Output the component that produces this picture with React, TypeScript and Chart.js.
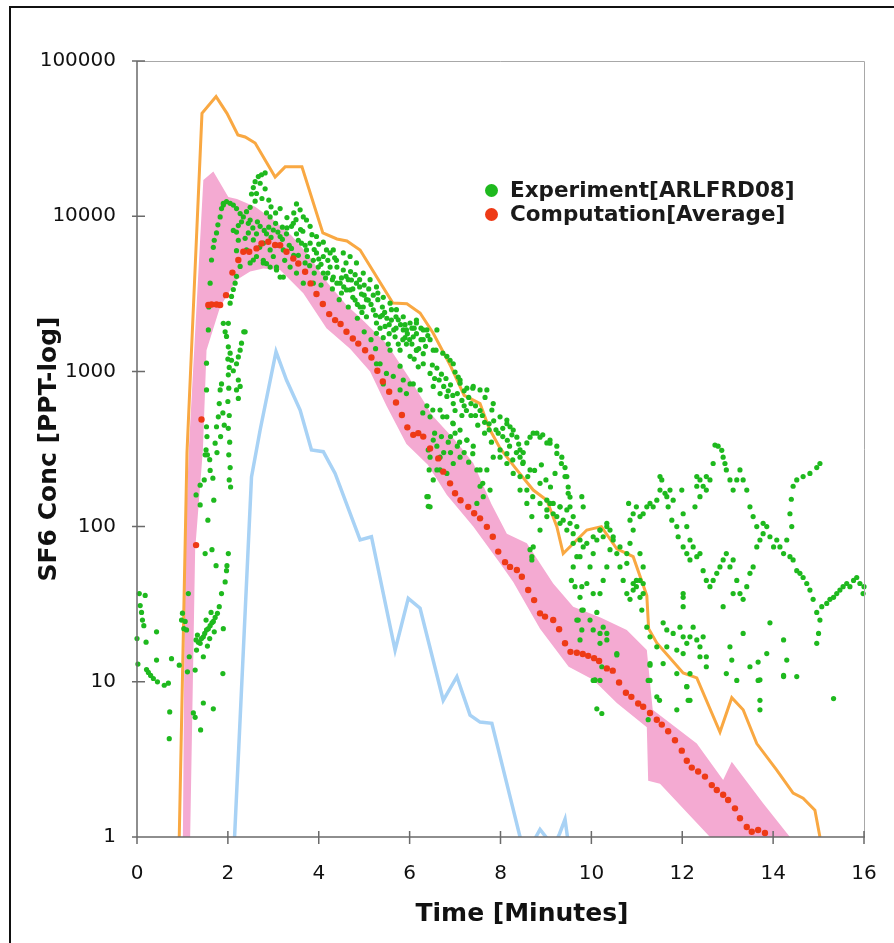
import React, { useEffect, useRef } from "react";
import { Chart, registerables } from "chart.js";

Chart.register(...registerables);

// ---- axis settings ----
const xMin = 0;
const xMax = 16;
const xStep = 2;
const yTickValues = [1, 10, 100, 1000, 10000, 100000];

// ---- series: [time (min), concentration (ppt)] ----
const maxLine: [number, number][] = [
  [0.93, 1], [1.1, 300], [1.43, 46000], [1.74, 59000], [1.98, 46000], [2.22, 33400], [2.38, 32400],
  [2.6, 29600], [3.04, 17900], [3.26, 20800], [3.63, 20800], [4.09, 7800], [4.4, 7130], [4.62, 6920],
  [4.91, 6050], [5.63, 2760], [5.94, 2730], [6.23, 2380], [6.52, 1760], [6.89, 1100], [7.2, 700],
  [7.55, 620], [7.75, 430], [7.99, 320], [8.36, 232], [8.72, 172], [9.02, 148], [9.24, 100], [9.38, 67],
  [9.9, 95], [10.22, 100], [10.56, 72], [10.92, 64], [11.22, 36], [11.26, 22], [11.44, 17.8],
  [12.02, 11.4], [12.32, 10.6], [12.83, 4.75], [13.09, 7.9], [13.34, 6.6], [13.64, 4.0], [14.08, 2.7],
  [14.44, 1.92], [14.66, 1.78], [14.92, 1.49], [15.03, 1],
];

const minLine: [number, number][] = [
  [2.14, 0.9], [2.52, 209], [2.71, 419], [3.06, 1340], [3.29, 880], [3.59, 564], [3.84, 312], [4.1, 304],
  [4.36, 220], [4.91, 82], [5.16, 86], [5.68, 16], [5.97, 34.5], [6.23, 29.8], [6.74, 7.6], [7.04, 10.8],
  [7.33, 6.1], [7.55, 5.5], [7.81, 5.4], [8.43, 1], [8.6, 0.8], [8.87, 1.12], [9.0, 1.0], [9.15, 0.85],
  [9.3, 1.05], [9.42, 1.3], [9.52, 0.8],
];

const bandUpper: [number, number][] = [
  [1.01, 1], [1.06, 71], [1.14, 312], [1.46, 17100], [1.68, 19400], [2.01, 13300], [2.2, 12900],
  [2.6, 11500], [3.0, 9500], [3.4, 7500], [3.8, 5500], [4.2, 3700], [4.6, 2700], [5.0, 2100], [5.5, 1500],
  [6.0, 900], [6.5, 520], [7.0, 360], [7.4, 257], [7.8, 140], [8.14, 90], [8.58, 78], [9.16, 43],
  [9.6, 30.5], [10.2, 26], [10.78, 21.6], [11.22, 16], [11.35, 6.6], [12.32, 4.0], [12.9, 2.33],
  [13.09, 3.05], [13.78, 1.65], [14.37, 1],
];

const bandLower: [number, number][] = [
  [1.17, 1], [1.28, 71], [1.45, 312], [1.53, 1370], [1.83, 2610], [2.19, 3880], [2.49, 4400],
  [2.78, 4610], [3.15, 4500], [3.37, 3880], [3.66, 3190], [4.17, 1900], [4.69, 1400], [5.13, 1000],
  [5.49, 600], [5.93, 340], [6.4, 250], [6.82, 160], [7.4, 100], [7.99, 58], [8.28, 44], [8.87, 22],
  [9.5, 12.5], [10.04, 10.3], [10.56, 7.3], [11.22, 5.1], [11.25, 2.3], [11.51, 2.2], [12.61, 1],
];

const computation: [number, number][] = [
  [1.3, 76], [1.42, 490], [1.57, 2680], [1.64, 2700], [1.75, 2700], [1.83, 2680], [1.96, 3100],
  [2.1, 4330], [2.23, 5220], [2.34, 5900], [2.47, 5900], [2.63, 6200], [2.74, 6670], [2.89, 6850],
  [3.04, 6520], [3.15, 6500], [3.29, 5900], [3.44, 5340], [3.55, 4960], [3.7, 4390], [3.82, 3690],
  [3.95, 3150], [4.09, 2720], [4.23, 2340], [4.36, 2140], [4.48, 2020], [4.61, 1800], [4.75, 1630],
  [4.87, 1510], [5.02, 1370], [5.16, 1230], [5.29, 1010], [5.41, 860], [5.55, 740], [5.7, 630],
  [5.83, 524], [5.95, 436], [6.08, 390], [6.19, 400], [6.3, 380], [6.45, 319], [6.63, 275], [6.74, 226],
  [6.89, 190], [7.0, 164], [7.12, 148], [7.29, 134], [7.42, 122], [7.55, 113], [7.7, 99.6], [7.83, 86],
  [7.95, 69], [8.1, 59], [8.21, 55], [8.36, 52.5], [8.47, 47.5], [8.61, 39], [8.74, 33.6], [8.87, 27.6],
  [8.98, 26.3], [9.16, 25], [9.29, 21.8], [9.42, 17.7], [9.54, 15.6], [9.68, 15.4], [9.81, 15.1],
  [9.93, 14.7], [10.06, 14.2], [10.17, 13.6], [10.34, 12.2], [10.47, 11.8], [10.61, 9.9], [10.76, 8.5],
  [10.88, 8.0], [11.03, 7.25], [11.14, 6.9], [11.29, 6.3], [11.44, 5.7], [11.55, 5.3], [11.69, 4.8],
  [11.84, 4.2], [11.99, 3.6], [12.1, 3.1], [12.21, 2.8], [12.35, 2.64], [12.5, 2.45], [12.65, 2.16],
  [12.76, 2.01], [12.9, 1.87], [13.01, 1.73], [13.16, 1.53], [13.27, 1.32], [13.42, 1.16], [13.53, 1.08],
  [13.67, 1.11], [13.82, 1.06],
];

const experimentEarly: [number, number][] = [
  [0, 19], [0.02, 13], [0.05, 37], [0.07, 31], [0.1, 28], [0.12, 25], [0.15, 23], [0.18, 36], [0.2, 18],
  [0.21, 12], [0.25, 11.5], [0.3, 11], [0.36, 10.5], [0.43, 21], [0.43, 13.8], [0.45, 10], [0.6, 9.5],
  [0.69, 9.8], [0.72, 6.4], [0.71, 4.3], [0.76, 14.1], [0.93, 12.8], [0.98, 25], [1.0, 27.7], [1.03, 22],
  [1.06, 24.5], [1.09, 21.6], [1.11, 11.6], [1.13, 37], [1.15, 14.5], [1.24, 6.3], [1.28, 5.9], [1.28, 11.9],
  [1.4, 4.9], [1.46, 7.3], [1.68, 6.7], [1.89, 11.3], [1.31, 16], [1.35, 18], [1.39, 17.7], [1.42, 19],
  [1.46, 19.5], [1.49, 20.5], [1.53, 21.6], [1.57, 22], [1.61, 23], [1.65, 24], [1.68, 24.5], [1.72, 26],
  [1.77, 27.6], [1.81, 30.5], [1.86, 37], [1.9, 22], [1.94, 44], [1.97, 52], [1.98, 56], [1.74, 56],
  [1.5, 67], [2.01, 67], [1.46, 14.5], [1.33, 20], [1.3, 18.6], [1.55, 17], [1.6, 19], [1.52, 25],
  [1.63, 28], [1.7, 21],
];

const experimentRise: [number, number][] = [
  [1.3, 160], [1.39, 185], [1.39, 138], [1.5, 290], [1.61, 230], [1.67, 205], [1.69, 148], [1.56, 110],
  [1.65, 71], [1.53, 1130], [1.57, 1850], [1.53, 760], [1.53, 440], [1.54, 380], [1.52, 312], [1.75, 440],
  [1.72, 345], [1.79, 510], [1.81, 620], [1.83, 760], [1.86, 830], [1.89, 540], [1.9, 2040], [1.94, 1800],
  [1.97, 1680], [2.01, 1440], [2.05, 1310], [2.08, 1180], [2.03, 1060], [2.12, 1010], [2.19, 1120],
  [2.23, 1240], [2.27, 1370], [2.3, 1520], [2.35, 1800], [2.23, 880], [2.27, 800], [2.19, 760], [2.23, 670],
  [2.38, 1800], [2.0, 1200], [2.01, 950], [2.02, 780], [2.0, 640], [2.03, 520], [2.01, 430], [2.04, 350],
  [2.02, 290], [2.05, 240], [2.03, 200], [2.06, 180], [1.55, 290], [1.6, 270], [1.48, 200], [1.76, 300],
  [1.84, 380], [1.92, 450], [1.61, 3700], [1.64, 5220], [1.68, 6300], [1.75, 7800], [1.83, 9900],
  [1.9, 11800], [2.01, 2040], [2.05, 2750], [2.08, 3040], [2.12, 3370], [2.16, 3700], [2.19, 4100],
  [2.27, 4750], [2.19, 6000], [2.23, 7000], [2.19, 7900], [2.23, 8700], [2.12, 8100], [2.38, 7200],
  [1.58, 2600], [1.7, 7000], [1.78, 8800],
];

const experimentPeak: [number, number][] = [
  [1.86, 11200], [1.9, 12100], [1.97, 12400], [2.05, 12100], [2.12, 11800], [2.19, 11200], [2.27, 10400],
  [2.34, 9900], [2.41, 10700], [2.49, 11400], [2.52, 13900], [2.56, 15300], [2.6, 16700], [2.67, 18000],
  [2.74, 18500], [2.82, 19000], [2.71, 16300], [2.82, 15000], [2.63, 14000], [2.45, 9000], [2.3, 9200],
  [2.6, 12500], [2.75, 13000], [2.9, 12700], [2.95, 11500], [3.05, 10500], [3.15, 11200], [3.51, 12000],
  [3.59, 11000], [3.66, 9900], [3.73, 9450], [3.45, 10500], [3.3, 9800],
  [2.93, 9900], [3.0, 8150], [3.15, 7400], [2.93, 6060], [2.78, 6700], [2.63, 7700], [2.49, 9450],
  [2.56, 7030], [2.71, 8600], [2.85, 7700], [3.0, 5500], [3.22, 6060], [3.29, 7700], [3.44, 9000],
  [3.51, 7700], [3.62, 6700], [3.73, 6060], [3.81, 6700], [3.88, 5200], [3.99, 4700], [4.1, 5500],
  [4.17, 6060], [4.25, 4700], [4.32, 4050], [4.39, 5200], [4.47, 3700], [4.54, 4500], [4.61, 3350],
  [4.72, 3880], [4.8, 2880], [4.83, 3700], [4.91, 2600], [4.94, 3150], [5.05, 2250], [5.09, 2880],
  [5.2, 2490], [5.27, 1760], [5.35, 2250], [5.46, 1950], [5.53, 1500], [5.6, 2140], [5.68, 1670],
  [5.79, 1370], [5.86, 1850], [5.93, 1500], [6.01, 1250], [6.08, 1670], [6.15, 1370], [6.19, 1070],
  [6.01, 830], [5.86, 880], [5.79, 760],
  [2.41, 6060], [2.63, 5500], [2.78, 5000], [2.93, 4700], [3.07, 4500], [3.37, 4700], [3.51, 4300],
  [3.66, 3700], [3.88, 3700], [2.49, 5000], [2.78, 5200], [3.07, 4700], [3.22, 4050], [2.56, 5220],
  [3.15, 4050], [2.85, 4950],
  [3.81, 8600], [3.95, 7400], [4.1, 6800], [4.32, 6060], [4.54, 5800], [4.69, 5500], [4.83, 5000],
  [4.98, 4300], [5.13, 3900], [5.27, 3500], [5.42, 3000], [5.57, 2750], [5.71, 2500], [5.86, 2250],
  [6.01, 2050], [6.15, 2050],
  [4.69, 3350], [4.98, 2600], [5.27, 2050], [5.42, 1650], [5.57, 1370], [5.79, 1080], [5.27, 1120],
  [5.42, 830], [5.35, 1120], [5.49, 970], [5.64, 930], [5.93, 720], [6.08, 830], [6.23, 760], [6.38, 600],
  [6.45, 510], [6.52, 361], [6.41, 312], [6.45, 280], [6.43, 232], [6.41, 156], [6.41, 135],
  [3.2, 8500], [3.35, 6500], [3.55, 5600], [3.7, 5000], [3.9, 6100], [4.0, 5300], [4.2, 4300], [4.4, 4700],
  [4.5, 3200], [4.6, 4100], [4.75, 3000], [4.9, 3500], [5.0, 3100], [5.15, 2700], [5.3, 2900], [5.4, 2300],
  [5.55, 2000], [5.7, 1900], [5.75, 2150], [5.9, 1650], [6.05, 1500], [6.1, 1900], [6.25, 1600],
  [6.3, 1300], [3.6, 8200], [3.4, 8600], [2.9, 8500], [3.1, 6500], [4.05, 3600], [4.15, 4000], [4.3, 3400],
  [4.45, 2900], [4.65, 2600], [4.85, 2200], [5.0, 1800], [5.15, 1600], [5.25, 1400],
  [2.45, 7800], [2.55, 8400], [2.65, 9200], [2.7, 6300], [2.8, 8100], [2.85, 10500], [2.95, 7300],
  [3.05, 9000], [3.1, 7900], [3.2, 7100], [3.25, 5200], [3.3, 8400], [3.4, 6200], [3.45, 5600],
  [3.5, 9500], [3.55, 7000], [3.65, 8000], [3.7, 6500], [3.75, 5500], [3.8, 4800], [3.85, 7600],
  [3.9, 4300], [3.95, 5800], [4.0, 6600], [4.05, 4900], [4.1, 4300], [4.2, 5200], [4.25, 5800],
  [4.3, 3900], [4.35, 5400], [4.4, 3700], [4.5, 4000], [4.55, 3500], [4.6, 5000], [4.65, 3900],
  [4.7, 4400], [4.75, 3400], [4.8, 4200], [4.85, 2700], [4.9, 3900], [4.95, 2400], [5.0, 3600],
  [5.05, 2900], [5.1, 3400], [5.2, 3100], [5.25, 2300], [5.3, 3200], [5.35, 1900], [5.4, 2600],
  [5.45, 2400], [5.5, 2200], [5.55, 1750], [5.6, 2500], [5.65, 1850], [5.7, 2250], [5.75, 1500],
  [5.8, 2000], [5.85, 1600], [5.9, 2000], [5.95, 1750], [6.0, 1600], [6.05, 1900], [6.1, 1200],
  [6.15, 1750], [6.2, 1400], [6.25, 1900], [6.3, 1600], [6.35, 1450], [6.4, 1700],
];

const experimentMid: [number, number][] = [
  [6.15, 2140], [6.3, 1850], [6.45, 1600], [6.58, 1370], [6.73, 1310], [6.89, 1180], [7.0, 990],
  [7.11, 880], [7.26, 780], [7.39, 780], [7.55, 760], [7.66, 680], [7.81, 564], [7.99, 510], [8.14, 486],
  [8.21, 440], [8.36, 377], [8.43, 280], [8.49, 255], [8.65, 232], [8.87, 190], [9.02, 148], [9.16, 141],
  [9.31, 134], [9.46, 128], [9.6, 116],
  [8.58, 346], [8.65, 377], [8.8, 400], [8.93, 390], [9.09, 361], [9.24, 330], [9.35, 280], [9.42, 240],
  [9.46, 210], [9.49, 180], [9.53, 155],
  [6.6, 1850], [6.82, 1250], [6.96, 1120], [7.07, 920], [7.11, 840], [7.4, 800], [7.7, 760], [7.84, 620],
  [8.14, 460], [8.28, 419], [8.43, 312], [8.72, 400], [8.87, 377], [9.02, 346],
  [5.93, 1850], [6.15, 1370], [6.3, 1120], [6.45, 970], [6.52, 800], [6.67, 720], [6.82, 690], [6.96, 620],
  [6.52, 1370], [6.38, 1850],
  [6.67, 564], [6.82, 510], [6.96, 460], [6.67, 280], [6.6, 232], [6.82, 220], [6.96, 255], [7.11, 280],
  [7.26, 361], [7.4, 330], [7.48, 232], [7.55, 182], [7.48, 141], [7.62, 156], [7.7, 232], [7.84, 280],
  [7.99, 312], [8.14, 255], [8.28, 220], [8.43, 172], [8.58, 141], [8.69, 116], [8.69, 64], [8.72, 74],
  [8.87, 95], [9.02, 116],
  [6.29, 540], [6.51, 564], [6.73, 510], [6.95, 465], [7.11, 419], [7.26, 361], [7.39, 295], [7.55, 232],
  [7.61, 190], [7.77, 172], [7.99, 280], [8.14, 295], [8.27, 269], [8.43, 210], [8.58, 172], [8.71, 156],
  [8.87, 141], [9.02, 128], [9.24, 116], [9.31, 105], [9.46, 95], [9.6, 78], [9.75, 64], [9.9, 78],
  [10.04, 86], [10.19, 95], [10.34, 100], [10.48, 86], [10.63, 74], [10.78, 58], [10.92, 43], [11.07, 35],
  [6.38, 156], [6.45, 134], [6.52, 200], [6.67, 232], [8.65, 71], [8.69, 61], [9.68, 25], [9.79, 29],
  [10.04, 21.6], [10.19, 20.5], [10.34, 18.6], [10.56, 15.2], [10.19, 10.2], [10.04, 10.2], [11.29, 13.1],
  [11.25, 10.2], [11.14, 43],
  [7.2, 600], [7.35, 520], [7.5, 450], [7.65, 400], [7.8, 350], [7.9, 420], [8.05, 380], [8.2, 330],
  [8.35, 300], [8.5, 260], [8.6, 210], [8.75, 230], [8.9, 250], [9.0, 200], [9.1, 180], [9.2, 220],
  [7.3, 680], [7.45, 600], [7.6, 520], [7.75, 460], [7.15, 520], [7.0, 560], [6.9, 380], [7.05, 330],
  [6.5, 1100], [6.55, 900], [6.6, 1050], [6.65, 880], [6.7, 960], [6.75, 800], [6.8, 900], [6.85, 750],
  [6.9, 820], [6.95, 700], [7.05, 720], [7.15, 650], [7.2, 750], [7.25, 560], [7.35, 620], [7.45, 520],
  [7.55, 560], [7.65, 470], [7.75, 420], [7.85, 480], [7.95, 400], [8.05, 430], [8.15, 360], [8.25, 390],
  [8.4, 340], [8.5, 300], [6.55, 400], [6.6, 330], [6.7, 380], [6.75, 300], [6.85, 350], [6.9, 300],
  [7.0, 400], [7.1, 350], [7.2, 300], [7.3, 260],
];

const experimentLate: [number, number][] = [
  [9.09, 345], [9.24, 296], [9.34, 255], [9.42, 210], [9.49, 164], [9.53, 134], [9.09, 141], [9.16, 121],
  [9.31, 134], [9.38, 110], [9.53, 105], [9.6, 90], [9.68, 100], [9.79, 156], [9.82, 134], [9.75, 82],
  [9.82, 74], [9.68, 64], [9.6, 55], [9.56, 45], [9.64, 41], [9.79, 41], [9.9, 43], [9.97, 55], [10.04, 67],
  [10.12, 82], [10.19, 95], [10.26, 86], [10.34, 105], [10.41, 95], [10.48, 82], [10.41, 71], [10.34, 55],
  [10.26, 45], [10.19, 37], [10.04, 37], [10.12, 28], [10.26, 22.5], [10.34, 20.5], [10.19, 17.7],
  [9.97, 25], [9.82, 29], [9.75, 35], [9.71, 25], [9.79, 21.6], [9.75, 18.6], [10.08, 10.3],
  [10.56, 67], [10.63, 55], [10.7, 45], [10.78, 37], [10.85, 34], [10.92, 39], [10.99, 45], [10.78, 67],
  [10.85, 78], [10.92, 95], [10.85, 110], [10.82, 141], [10.92, 121], [10.99, 134], [11.07, 116],
  [11.14, 121], [11.22, 134], [11.29, 141], [11.36, 134], [11.44, 148], [11.51, 172], [11.55, 200],
  [11.66, 156], [11.73, 172], [11.8, 148],
  [11.07, 67], [11.14, 55], [11.07, 45], [10.99, 41], [11.14, 37], [11.11, 29], [11.22, 22.5], [11.29, 19.5],
  [11.44, 16.8], [11.58, 24], [11.66, 21.6], [11.8, 20.5], [11.95, 22.5], [12.02, 19.5], [12.1, 17.7],
  [12.17, 19.5], [12.24, 22.5], [12.32, 18.6], [12.39, 16.8], [12.46, 19.5], [12.53, 14.5], [11.66, 16.8],
  [11.88, 16], [12.02, 15.2], [12.02, 35], [12.02, 30.5], [12.17, 11.3], [12.1, 9.3], [12.17, 7.6],
  [11.88, 11.3], [11.58, 13.1],
  [11.51, 210], [11.62, 164], [11.69, 134], [11.77, 110], [11.88, 100], [11.91, 86], [12.02, 74],
  [12.1, 67], [12.17, 61], [12.24, 74], [12.32, 64], [12.39, 67], [12.46, 52], [12.53, 45], [12.61, 41],
  [12.68, 45], [12.76, 50], [12.83, 55], [12.9, 61], [12.97, 67], [13.05, 55], [13.12, 61], [13.2, 45],
  [13.27, 37], [13.34, 34], [13.42, 41], [13.49, 50], [13.56, 55], [13.64, 74], [13.71, 82], [13.78, 90],
  [13.86, 100], [13.93, 86], [14.01, 74], [14.08, 82], [14.15, 74], [14.23, 67], [14.3, 82], [14.37, 64],
  [14.44, 61], [14.52, 52], [14.59, 50], [14.66, 47], [14.74, 43], [14.81, 39], [14.88, 34], [14.96, 28],
  [15.03, 25], [15.0, 20.5], [14.96, 17.7], [15.07, 30.5], [15.18, 32], [15.25, 34], [15.33, 35],
  [15.4, 37], [15.47, 39], [15.54, 41], [15.62, 43], [15.69, 41], [15.77, 45], [15.84, 47], [15.91, 43],
  [15.98, 37], [16.0, 41],
  [12.72, 335], [12.79, 330], [12.87, 310], [12.9, 280], [12.94, 255], [12.97, 232], [13.05, 200],
  [13.12, 172], [13.2, 200], [13.27, 232], [13.34, 200], [13.42, 172], [13.49, 134], [13.56, 116],
  [13.64, 100], [13.78, 105], [12.68, 255], [12.61, 200], [12.53, 172], [12.46, 182], [12.39, 200],
  [12.32, 182], [12.28, 134], [12.39, 156], [12.53, 210],
  [14.44, 182], [14.52, 200], [14.66, 210], [14.81, 220], [14.96, 240], [15.03, 255], [14.37, 121],
  [14.41, 100], [14.4, 150], [12.32, 210], [11.99, 172], [12.02, 121], [12.1, 100], [12.17, 82],
  [12.02, 37], [13.05, 16.8], [13.09, 13.8], [13.49, 12.5], [13.67, 13.4], [13.71, 10.3], [13.86, 15.2],
  [14.3, 13.8], [14.52, 10.8], [14.23, 10.8], [13.34, 20.5], [12.9, 30.5], [13.12, 37], [13.93, 24],
  [14.23, 18.6], [15.33, 7.8], [13.71, 7.6],
  [10.56, 14.9], [11.29, 12.8], [11.29, 10.2], [11.44, 8.0], [11.5, 7.6], [11.88, 6.6], [12.1, 9.3],
  [12.13, 7.6], [12.97, 11.3], [13.2, 10.2], [13.67, 10.2], [13.71, 6.6], [14.23, 11.0], [10.12, 6.7],
  [10.23, 6.25], [10.08, 10.2], [10.23, 12.5], [11.25, 5.7], [12.39, 14.5], [12.53, 12.5],
];

const legendLabels = ["Experiment[ARLFRD08]", "Computation[Average]"];
const axisTitles = { x: "Time [Minutes]", y: "SF6 Conc [PPT-log]" };

const colors = {
  green: "rgb(30,185,30)",
  red: "rgb(238,58,22)",
  orange: "rgb(249,168,66)",
  blue: "rgb(168,210,245)",
  pink: "rgb(244,170,210)",
};

const toXY = (arr: [number, number][]) => arr.map(([x, y]) => ({ x, y }));

export default function App() {
  const canvasRef = useRef<HTMLCanvasElement | null>(null);

  useEffect(() => {
    const canvas = canvasRef.current;
    if (!canvas) return;

    const framePlugin = {
      id: "frameTicks",
      afterDatasetsDraw(chart: any) {
        const { ctx, chartArea } = chart;
        const { left, right, top, bottom } = chartArea;
        const xs = chart.scales.x;
        const ys = chart.scales.y;
        ctx.save();
        ctx.strokeStyle = "#a8a8a8";
        ctx.lineWidth = 1;
        ctx.beginPath();
        ctx.moveTo(left, top + 0.5);
        ctx.lineTo(right + 0.5, top + 0.5);
        ctx.lineTo(right + 0.5, bottom);
        ctx.stroke();
        ctx.strokeStyle = "#6a6a6a";
        ctx.lineWidth = 1.5;
        ctx.beginPath();
        ctx.moveTo(left, top);
        ctx.lineTo(left, bottom);
        ctx.lineTo(right + 1, bottom);
        xs.ticks.forEach((t: any) => {
          const px = xs.getPixelForValue(t.value);
          ctx.moveTo(px, bottom - 6);
          ctx.lineTo(px, bottom + 7);
        });
        ys.ticks.forEach((t: any) => {
          const py = ys.getPixelForValue(t.value);
          ctx.moveTo(left - 5, py);
          ctx.lineTo(left + 8, py);
        });
        ctx.stroke();
        ctx.restore();
      },
    };

    const bandShape = [...toXY(bandUpper), ...toXY(bandLower).reverse()];

    const chart = new Chart(canvas, {
      type: "scatter",
      data: {
        datasets: [
          {
            label: legendLabels[1],
            data: toXY(computation),
            backgroundColor: colors.red,
            borderWidth: 0,
            pointRadius: 3.2,
            order: 0,
            clip: false,
          },
          {
            label: legendLabels[0],
            data: [
              ...toXY(experimentEarly),
              ...toXY(experimentRise),
              ...toXY(experimentPeak),
              ...toXY(experimentMid),
              ...toXY(experimentLate),
            ],
            backgroundColor: colors.green,
            borderWidth: 0,
            pointRadius: 2.6,
            order: 1,
            clip: false,
          },
          {
            label: "min",
            data: toXY(minLine),
            showLine: true,
            borderColor: colors.blue,
            borderWidth: 3.5,
            pointRadius: 0,
            order: 2,
          },
          {
            label: "max",
            data: toXY(maxLine),
            showLine: true,
            borderColor: colors.orange,
            borderWidth: 3,
            pointRadius: 0,
            order: 3,
          },
          {
            label: "range",
            data: bandShape,
            showLine: true,
            borderWidth: 0,
            borderColor: "rgba(0,0,0,0)",
            backgroundColor: colors.pink,
            fill: "shape",
            pointRadius: 0,
            order: 4,
          },
        ] as any,
      },
      options: {
        animation: false,
        responsive: true,
        maintainAspectRatio: false,
        layout: { padding: { top: 61, right: 30, left: 0, bottom: 0 } },
        plugins: {
          legend: { display: false },
          tooltip: { enabled: false },
        },
        scales: {
          x: {
            type: "linear",
            min: xMin,
            max: xMax,
            grid: { display: false, drawTicks: false },
            border: { display: false },
            ticks: {
              stepSize: xStep,
              padding: 25,
              color: "#111",
              font: { family: "DejaVu Sans", size: 20 },
              maxRotation: 0,
              autoSkip: false,
            },
            title: { display: false },
            afterFit: (s: any) => {
              s.height = 106;
              s.paddingLeft = 0;
              s.paddingRight = 0;
            },
          },
          y: {
            type: "logarithmic",
            min: 1,
            max: 100000,
            grid: { display: false, drawTicks: false },
            border: { display: false },
            afterBuildTicks: (s: any) => {
              s.ticks = yTickValues.map((v) => ({ value: v }));
            },
            ticks: {
              padding: 21,
              color: "#111",
              font: { family: "DejaVu Sans", size: 20 },
              callback: (v: any) => String(v),
            },
            title: {
              display: true,
              text: axisTitles.y,
              color: "#111",
              font: { family: "DejaVu Sans", size: 25, weight: "bold" },
              padding: { top: 34, bottom: 0 },
            },
            afterFit: (s: any) => {
              s.width = 137;
            },
          },
        },
      } as any,
      plugins: [framePlugin],
    });

    return () => chart.destroy();
  }, []);

  const legendRow = (color: string, text: string, cy: number) => (
    <div
      style={{
        position: "absolute",
        left: 485,
        top: cy - 13,
        height: 26,
        display: "flex",
        alignItems: "center",
        whiteSpace: "nowrap",
      }}
    >
      <span
        style={{
          display: "inline-block",
          width: 13,
          height: 13,
          borderRadius: "50%",
          background: color,
          marginRight: 12,
        }}
      />
      <span
        style={{
          fontFamily: "'DejaVu Sans', sans-serif",
          fontWeight: "bold",
          fontSize: 21.5,
          color: "#1a1a1a",
          lineHeight: "26px",
        }}
      >
        {text}
      </span>
    </div>
  );

  return (
    <div
      style={{
        position: "fixed",
        left: 0,
        top: 0,
        width: 894,
        height: 943,
        background: "#ffffff",
        overflow: "hidden",
      }}
    >
      <div
        style={{
          position: "absolute",
          left: 9,
          top: 6,
          right: -4,
          bottom: -4,
          borderTop: "2px solid #111",
          borderLeft: "2px solid #111",
          boxSizing: "border-box",
        }}
      />
      <div style={{ position: "absolute", left: 0, top: 0, width: 894, height: 943 }}>
        <canvas ref={canvasRef} />
      </div>
      {legendRow(colors.green, legendLabels[0], 190)}
      {legendRow(colors.red, legendLabels[1], 214)}
      <div
        style={{
          position: "absolute",
          left: 522 - 150,
          width: 300,
          top: 913 - 16,
          height: 32,
          lineHeight: "32px",
          textAlign: "center",
          fontFamily: "'DejaVu Sans', sans-serif",
          fontWeight: "bold",
          fontSize: 25,
          color: "#111",
          whiteSpace: "nowrap",
        }}
      >
        {axisTitles.x}
      </div>
    </div>
  );
}
